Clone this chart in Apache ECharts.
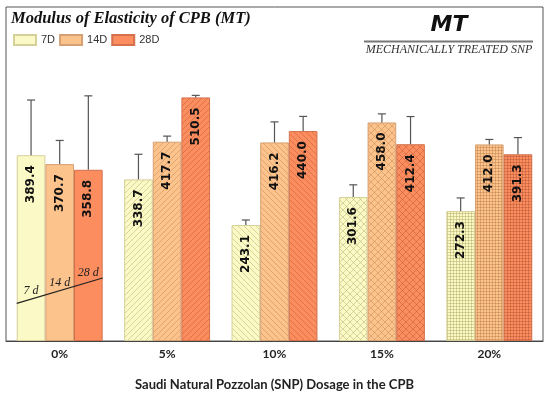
<!DOCTYPE html>
<html>
<head>
<meta charset="utf-8">
<script src="https://cdn.jsdelivr.net/npm/echarts@6/dist/echarts.min.js"></script>
<style>html,body{margin:0;padding:0;background:#fff;}#c{width:550px;height:396px;}</style>
</head>
<body>
<div id="c"></div>
<script>
// ---- data ----
const categories = ['0%', '5%', '10%', '15%', '20%'];
const seriesNames = ['7D', '14D', '28D'];
const values7D  = [389.4, 338.7, 243.1, 301.6, 272.3];
const values14D = [370.7, 417.7, 416.2, 458.0, 412.0];
const values28D = [358.8, 510.5, 440.0, 412.4, 391.3];
const err7D  = [115.6, 52.7, 10.5, 25.7, 27.5];
const err14D = [49.6, 11.7, 43.0, 18.0, 10.4];
const err28D = [155.0, 4.3, 30.7, 58.0, 35.0];
const annoLineValues = [79, 132];
const annoLabels = ['7 d', '14 d', '28 d'];
const annoLabelValues = [106, 122, 143];
const patternKinds = ['solid', 'slash', 'backslash', 'cross', 'grid'];

// ---- styles ----
const fills = ['#FBF9C5', '#FDC38C', '#FC8D5F'];
const borders = ['#D6D09A', '#D6A072', '#D2714B'];
const hatchColors = ['rgba(170,160,90,0.55)', 'rgba(170,110,60,0.45)', 'rgba(160,70,40,0.45)'];

function makePattern(kind, bg, line) {
  if (kind === 'solid') return bg;
  const s = kind === 'grid' ? 3 : (kind === 'cross' ? 7 : 6);
  const c = document.createElement('canvas');
  c.width = s; c.height = s;
  const g = c.getContext('2d');
  g.fillStyle = bg; g.fillRect(0, 0, s, s);
  g.strokeStyle = line; g.lineWidth = 0.8;
  g.beginPath();
  if (kind === 'slash' || kind === 'cross') {
    for (let k = -1; k <= 1; k++) { g.moveTo(k * s, s); g.lineTo(k * s + s, 0); }
  }
  if (kind === 'backslash' || kind === 'cross') {
    for (let k = -1; k <= 1; k++) { g.moveTo(k * s, 0); g.lineTo(k * s + s, s); }
  }
  if (kind === 'grid') {
    g.moveTo(0, 0.5); g.lineTo(s, 0.5);
    g.moveTo(0.5, 0); g.lineTo(0.5, s);
  }
  g.stroke();
  return { image: c, repeat: 'repeat' };
}

const allValues = [values7D, values14D, values28D];
const allErr = [err7D, err14D, err28D];

function barSeries(si) {
  return {
    name: seriesNames[si],
    type: 'bar',
    barGap: 0,
    barCategoryGap: '20%',
    itemStyle: { color: fills[si], borderColor: borders[si], borderWidth: 1 },
    label: {
      show: true,
      position: 'insideTop',
      rotate: 90,
      align: 'right',
      verticalAlign: 'middle',
      distance: 10,
      fontFamily: 'DejaVu Sans',
      fontWeight: 'bold',
      fontSize: 12,
      color: '#111',
      formatter: p => p.value.toFixed(1)
    },
    data: allValues[si].map((v, i) => ({
      value: v,
      itemStyle: { color: makePattern(patternKinds[i], fills[si], hatchColors[si]) }
    })),
    z: 2
  };
}

function errSeries(si) {
  return {
    type: 'custom',
    name: seriesNames[si] + ' err',
    z: 5,
    silent: true,
    data: allValues[si].map((v, i) => [i, v, allErr[si][i]]),
    renderItem: function (params, api) {
      const x = api.value(0), v = api.value(1), e = api.value(2);
      const base = api.coord([x, v]);
      const top = api.coord([x, v + e]);
      const band = api.size([1, 0])[0];
      const bw = band * 0.8 / 3;
      const cx = base[0] + (si - 1) * bw;
      const st = { stroke: '#555', lineWidth: 1.2 };
      return {
        type: 'group',
        children: [
          { type: 'line', shape: { x1: cx, y1: base[1], x2: cx, y2: top[1] }, style: st },
          { type: 'line', shape: { x1: cx - 4, y1: top[1], x2: cx + 4, y2: top[1] }, style: st }
        ]
      };
    }
  };
}

const chart = echarts.init(document.getElementById('c'), null, { renderer: 'canvas' });
const baseGraphic = [
  { type: 'text', style: { text: 'MT', x: 449, y: 25, align: 'center', verticalAlign: 'middle',
    font: 'italic bold 22px "DejaVu Sans"', fill: '#111' } },
  { type: 'line', shape: { x1: 364, y1: 41.5, x2: 533, y2: 41.5 }, style: { stroke: '#777', lineWidth: 2 } },
  { type: 'text', style: { text: 'MECHANICALLY TREATED SNP', x: 449, y: 49.5, align: 'center', verticalAlign: 'middle',
    font: 'italic 12px "Liberation Serif"', fill: '#333' } }
];
const option = {
  animation: false,
  backgroundColor: '#fff',
  title: {
    text: 'Modulus of Elasticity of CPB (MT)',
    left: 11, top: 10, padding: 0,
    textStyle: { fontFamily: 'Liberation Serif', fontStyle: 'italic', fontWeight: 'bold', fontSize: 16.5, color: '#111' }
  },
  legend: {
    data: seriesNames,
    left: 13, top: 34, padding: 0,
    itemWidth: 22, itemHeight: 10, itemGap: 4,
    icon: 'rect',
    textStyle: { fontFamily: 'Liberation Sans', fontSize: 11, color: '#333' }
  },
  grid: {
    left: 6, right: 7, top: 7, bottom: 50,
    show: true, borderColor: '#555', borderWidth: 1, backgroundColor: 'transparent'
  },
  xAxis: {
    type: 'category',
    data: categories,
    axisLine: { lineStyle: { color: '#444', width: 1 } },
    axisTick: { alignWithLabel: true, length: 5, lineStyle: { color: '#444' } },
    axisLabel: { fontFamily: 'Lato', fontWeight: 'bold', fontSize: 12, color: '#222', margin: 7 },
    name: 'Saudi Natural Pozzolan (SNP) Dosage in the CPB',
    nameLocation: 'middle',
    nameGap: 37,
    nameTextStyle: { fontFamily: 'Lato', fontWeight: 'bold', fontSize: 13, color: '#222' }
  },
  yAxis: {
    type: 'value', min: 0, max: 700, show: false,
    splitLine: { show: false }
  },
  series: [barSeries(0), barSeries(1), barSeries(2), errSeries(0), errSeries(1), errSeries(2)],
  graphic: baseGraphic
};
chart.setOption(option);

// annotation in the 0% group (7 d / 14 d / 28 d)
(function () {
  const c0 = chart.convertToPixel({ xAxisIndex: 0, yAxisIndex: 0 }, [0, annoLineValues[0]]);
  const c1 = chart.convertToPixel({ xAxisIndex: 0, yAxisIndex: 0 }, [0, annoLineValues[1]]);
  const c2 = chart.convertToPixel({ xAxisIndex: 0, yAxisIndex: 0 }, [1, 0]);
  const band = c2[0] - c0[0];
  const bw = band * 0.8 / 3;
  const left = c0[0] - 1.5 * bw, right = c0[0] + 1.5 * bw;
  const gfx = baseGraphic.slice();
  gfx.push({ type: 'line', z: 10, shape: { x1: left, y1: c0[1], x2: right, y2: c1[1] }, style: { stroke: '#222', lineWidth: 1.2 } });
  annoLabels.forEach((t, i) => {
    const p = chart.convertToPixel({ xAxisIndex: 0, yAxisIndex: 0 }, [0, annoLabelValues[i]]);
    gfx.push({ type: 'text', z: 10, style: { text: t, x: p[0] + (i - 1) * bw, y: p[1], align: 'center', verticalAlign: 'middle',
      font: 'italic 12px "Liberation Serif"', fill: '#222' } });
  });
  chart.setOption({ graphic: gfx }, { replaceMerge: ['graphic'] });
})();
</script>
</body>
</html>
